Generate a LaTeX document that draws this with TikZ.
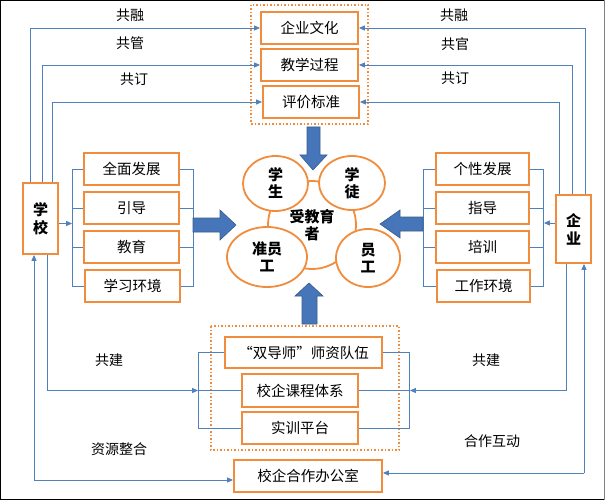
\documentclass[tikz,border=0pt]{standalone}
\usepackage{fontspec}
\setmainfont{Noto Sans CJK SC}
\usetikzlibrary{arrows.meta}
\definecolor{lineblue}{RGB}{79,129,189}
\definecolor{boxorange}{RGB}{240,140,60}
\definecolor{arrfill}{RGB}{70,118,185}
\definecolor{arrdraw}{RGB}{56,93,138}
\tikzset{
  box/.style={draw=boxorange, line width=1.8pt, fill=white, minimum height=32pt, inner sep=0pt, font=\fontsize{14.5}{16}\selectfont},
  sidebox/.style={draw=boxorange, line width=1.8pt, fill=white, inner sep=0pt, font=\fontsize{15}{18}\selectfont\bfseries, align=center},
  circ/.style={draw=boxorange, line width=1.8pt, fill=white, ellipse, inner sep=0pt, font=\fontsize{15}{17}\selectfont\bfseries, align=center},
  grp/.style={draw=boxorange, line width=1.5pt, dotted},
  conn/.style={draw=lineblue, line width=0.9pt},
  arr/.style={conn, -{Triangle[length=6pt,width=5pt]}},
  lbl/.style={font=\fontsize{14}{16}\selectfont},
  blk/.style={fill=arrfill, draw=arrdraw, line width=0.6pt}
}
\usetikzlibrary{shapes.geometric}
\begin{document}
\begin{tikzpicture}[x=1pt,y=-1pt]
\useasboundingbox (0,0) rectangle (605,500);
\fill[white] (0,0) rectangle (605,500);
\draw[black, line width=2pt] (605,0) -- (0,0) -- (0,500) -- (605,500);
\draw[gray, line width=1pt] (604.5,0) -- (604.5,500);

% top group
\draw[grp] (251,5) rectangle (368,124);
\node[box, minimum width=97pt] (t1) at (309.5,28) {企业文化};
\node[box, minimum width=97pt] (t2) at (309.5,65) {教学过程};
\node[box, minimum width=96pt] (t3) at (311,102) {评价标准};

% side boxes
\node[sidebox, minimum width=35pt, minimum height=71pt] (school) at (40.5,218.5) {学\\校};
\node[sidebox, minimum width=35pt, minimum height=68pt] (firm) at (573.5,229) {企\\业};

% left group
\node[box, minimum width=95pt] (l1) at (131.5,169) {全面发展};
\node[box, minimum width=95pt] (l2) at (131.5,208) {引导};
\node[box, minimum width=95pt] (l3) at (131.5,247) {教育};
\node[box, minimum width=95pt] (l4) at (132.5,286) {学习环境};

% right group
\node[box, minimum width=93pt] (r1) at (482.5,169) {个性发展};
\node[box, minimum width=93pt] (r2) at (482.5,208) {指导};
\node[box, minimum width=93pt] (r3) at (482.5,247) {培训};
\node[box, minimum width=93pt] (r4) at (483.5,286) {工作环境};

% bottom group
\draw[grp] (211,326) rectangle (399,450);
\node[box, minimum width=157pt, minimum height=31pt] (b1) at (303.5,352.5) {“双导师”师资队伍};
\node[box, minimum width=116pt, minimum height=33pt] (b2) at (300,390.5) {校企课程体系};
\node[box, minimum width=116pt] (b3) at (300,428) {实训平台};
\node[box, minimum width=148pt] (b4) at (308,476) {校企合作办公室};

% centre circles
\node[circ, minimum width=88pt, minimum height=88pt] (c0) at (312,225) {};
\node[circ, minimum width=65pt, minimum height=55pt] (c1) at (275.5,183.5) {学\\生};
\node[circ, minimum width=66pt, minimum height=54pt] (c2) at (352,183) {学\\徒};
\node[circ, minimum width=80pt, minimum height=60pt] (c3) at (267,257) {准员\\工};
\node[circ, minimum width=64pt, minimum height=58pt] (c4) at (368,258) {员\\工};
\node[font=\fontsize{15}{17}\selectfont\bfseries, align=center] (c0t) at (c0) {受教育\\者};

% top connectors from school
\draw[arr] ([xshift=8pt]school.north west) |- (t1.west);
\draw[arr] ([xshift=20pt]school.north west) |- (t2.west);
\draw[arr] ([xshift=30pt]school.north west) |- (t3.west);
% top connectors from firm
\draw[arr] ([xshift=30pt]firm.north west) |- (t1.east);
\draw[arr] ([xshift=17pt]firm.north west) |- (t2.east);
\draw[arr] ([xshift=4pt]firm.north west) |- (t3.east);

\node[lbl] (lab1) at (130,15) {共融};
\node[lbl] (lab2) at (130,43) {共管};
\node[lbl] (lab3) at (134,79) {共订};
\node[lbl] (lab4) at (454,15) {共融};
\node[lbl] (lab5) at (455,44) {共官};
\node[lbl] (lab6) at (455,78) {共订};

% left brackets
\draw[conn] (l1.west) -- ++(-11,0) coordinate (lbl1) -- (lbl1 |- l4.west) -- (l4.west);
\draw[conn] (l2.west) -- (lbl1 |- l2.west);
\draw[conn] (l3.west) -- (lbl1 |- l3.west);
\draw[conn] (l1.east) -- ++(14,0) coordinate (lbr1) -- (lbr1 |- l4.east) -- (l4.east);
\draw[conn] (l2.east) -- (lbr1 |- l2.east);
\draw[conn] (l3.east) -- (lbr1 |- l3.east);
\draw[arr] ([yshift=-5pt]school.east) -- ([yshift=-5pt]school.east -| lbl1);

% right brackets
\draw[conn] (r1.west) -- ++(-12,0) coordinate (rbl1) -- (rbl1 |- r4.west) -- (r4.west);
\draw[conn] (r2.west) -- (rbl1 |- r2.west);
\draw[conn] (r3.west) -- (rbl1 |- r3.west);
\draw[conn] (r1.east) -- ++(14,0) coordinate (rbr1) -- (rbr1 |- r4.east) -- (r4.east);
\draw[conn] (r2.east) -- (rbr1 |- r2.east);
\draw[conn] (r3.east) -- (rbr1 |- r3.east);
\draw[arr] ([yshift=6pt]firm.west) -- ([yshift=6pt]firm.west -| rbr1);

% bottom brackets
\draw[conn] (b1.west) -- ++(-26,0) coordinate (bbl) -- (bbl |- b3.west) -- (b3.west);
\draw[conn] (b2.west) -- (bbl |- b2.west);
\draw[conn] (b1.east) -- ++(27,0) coordinate (bbr) -- (bbr |- b3.east) -- (b3.east);
\draw[conn] (b2.east) -- (bbr |- b2.east);

% bottom connectors
\draw[arr] ([xshift=25pt]school.south west) |- (bbl |- b2.west);
\draw[arr] ([xshift=11pt]firm.south west) |- (bbr |- b2.east);
\coordinate (sl) at (34,480);
\coordinate (fr) at (584,473);
\draw[arr] (sl) -- (sl |- school.south);
\draw[arr] (sl) -- (sl -| b4.west);
\draw[arr] (fr) -- (fr |- firm.south);
\draw[arr] (fr) -- (fr -| b4.east);

\node[lbl] (lab7) at (109,360) {共建};
\node[lbl] (lab8) at (486,360) {共建};
\node[lbl] (lab9) at (119,449) {资源整合};
\node[lbl] (lab10) at (492,441) {合作互动};

% block arrows
\draw[blk] (193,218) -- (220,218) -- (220,210) -- (236,225) -- (220,240) -- (220,232) -- (193,232) -- cycle;
\draw[blk] (423,217) -- (400,217) -- (400,210) -- (380,224) -- (400,238) -- (400,231) -- (423,231) -- cycle;
\draw[blk] (307,127) -- (320,127) -- (320,155) -- (327,155) -- (313,170) -- (300,155) -- (307,155) -- cycle;
\draw[blk] (302,324) -- (317,324) -- (317,296) -- (323,296) -- (309,283) -- (295,296) -- (302,296) -- cycle;
\end{tikzpicture}
\end{document}
